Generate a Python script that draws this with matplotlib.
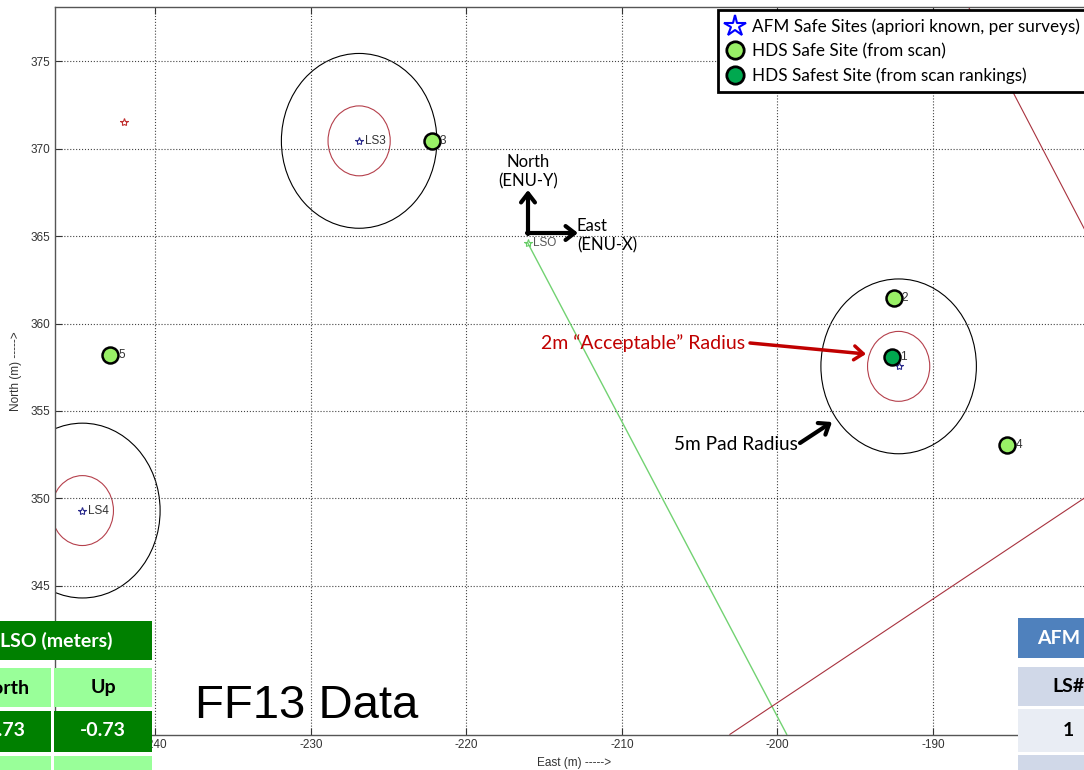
import matplotlib.pyplot as plt
import numpy as np
from matplotlib.lines import Line2D
from matplotlib.patches import Circle, Rectangle

plt.rcParams['font.family'] = 'Liberation Sans'
plt.rcParams['axes.unicode_minus'] = False

# AFM safe sites (apriori known, per surveys)
afm_east = [-192.2, -226.9, -244.7]
afm_north = [357.55, 370.45, 349.3]
afm_labels = ['', 'LS3', 'LS4']

# HDS safe sites from scan, site 1 is the safest
hds_ids = ['1', '2', '3', '4', '5']
hds_east = [-192.6, -192.5, -222.2, -185.2, -242.9]
hds_north = [358.1, 361.45, 370.45, 353.05, 358.2]
safest_id = '1'

# other reference points
lso_east, lso_north = -216.05, 364.6
red_site_east, red_site_north = -242.0, 371.55

# ground track from LSO and the two red boundary lines
track_east = [-216.05, -199.4]
track_north = [364.6, 336.5]
bound1_east = [-187.7, -175.0]
bound1_north = [378.1, 356.45]
bound2_east = [-203.05, -175.0]
bound2_north = [336.5, 353.13]

pad_radius = 5.0
accept_radius = 2.0

# offset tables
lso_cols = ['North', 'Up']
lso_vals = ['-0.73', '-0.73']
afm_cols = ['LS#']
afm_vals = ['1']

W, H = 1084, 770
fig = plt.figure(figsize=(W / 100, H / 100), dpi=100)
ax = fig.add_axes([55 / W, (H - 734.5) / H, 1038 / W, 727.2 / H])
ax.set_xlim(-246.46, -179.7)
ax.set_ylim(336.49, 378.09)

# pad and acceptable radius circles round each AFM site
for e, n in zip(afm_east, afm_north):
    ax.add_patch(Circle((e, n), pad_radius, fill=False, ec='k', lw=0.8))
    ax.add_patch(Circle((e, n), accept_radius, fill=False, ec='#b5404c', lw=0.8))

ax.plot(track_east, track_north, color='#72d272', lw=1.0)
ax.plot(bound1_east, bound1_north, color='#a8323e', lw=0.8)
ax.plot(bound2_east, bound2_north, color='#a8323e', lw=0.8)

ax.plot(afm_east, afm_north, ls='none', marker='*', ms=6, mfc='none',
        mec='#2b2b8c', mew=0.8)
for e, n, t in zip(afm_east, afm_north, afm_labels):
    if t:
        ax.text(e + 0.35, n, t, fontsize=8.5, color='#333333', va='center')

ax.plot([lso_east], [lso_north], ls='none', marker='*', ms=6, mfc='none',
        mec='#66cc66', mew=0.8)
ax.text(lso_east + 0.35, lso_north, 'LSO', fontsize=8.5, color='#555555', va='center')
ax.plot([red_site_east], [red_site_north], ls='none', marker='*', ms=6,
        mfc='none', mec='#c03030', mew=0.8)

for i, e, n in zip(hds_ids, hds_east, hds_north):
    fc = '#00a84f' if i == safest_id else '#99f066'
    ax.plot([e], [n], ls='none', marker='o', ms=11.5, mfc=fc, mec='k', mew=1.8)
    ax.text(e + 0.5, n, i, fontsize=8.5, color='#333333', va='center')

ax.set_xticks(np.arange(-240, -179, 10))
ax.set_yticks(np.arange(345, 376, 5))
ax.grid(True, ls=':', color='#444444', lw=0.8)
ax.tick_params(direction='in', length=5, top=True, right=True,
               labelsize=8.5, color='#333333', labelcolor='#333333')
for s in ax.spines.values():
    s.set_color('#555555')
    s.set_linewidth(1.0)
ax.set_xlabel('East (m) ----->', fontsize=8.5, color='#333333', labelpad=4)
ax.set_ylabel('North (m) ----->', fontsize=8.5, color='#333333', labelpad=6)

handles = [
    Line2D([], [], ls='none', marker='*', ms=16, mfc='white', mec='#0000ff', mew=1.5),
    Line2D([], [], ls='none', marker='o', ms=12.5, mfc='#99f066', mec='k', mew=2),
    Line2D([], [], ls='none', marker='o', ms=12.5, mfc='#00a84f', mec='k', mew=2),
]
labels = ['AFM Safe Sites (apriori known, per surveys)',
          'HDS Safe Site (from scan)',
          'HDS Safest Site (from scan rankings)']
leg = ax.legend(handles, labels, loc='upper left',
                bbox_to_anchor=(718 / W, 1 - 10 / H), bbox_transform=fig.transFigure,
                fancybox=False, framealpha=1, edgecolor='k', borderaxespad=0,
                prop={'family': 'Lato', 'size': 12.3}, handlelength=1.0,
                handletextpad=0.5, labelspacing=0.47, borderpad=0.5)
leg.get_frame().set_linewidth(2)

# slide overlay in pixel coordinates
ov = fig.add_axes([0, 0, 1, 1], zorder=5)
ov.set_xlim(0, W)
ov.set_ylim(H, 0)
ov.axis('off')
ov.patch.set_alpha(0)

dark_g, light_g = '#008000', '#99ff99'
def cell(x0, y0, x1, y1, color):
    ov.add_patch(Rectangle((x0, y0), x1 - x0, y1 - y0, color=color, lw=0))

cell(-200, 621, 152, 660, dark_g)
col_x = [(-100, 51), (54, 152)]
for (x0, x1), name, val in zip(col_x, lso_cols, lso_vals):
    cell(x0, 668, x1, 707, light_g)
    cell(x0, 711, x1, 752, dark_g)
    cell(x0, 756, x1, 800, light_g)
    cx = (x0 + x1) / 2 if x0 > 0 else 3
    ov.text(cx, 688, name, ha='center', va='center', family='Lato',
            weight='bold', fontsize=14, color='black')
    ov.text(cx, 731, val, ha='center', va='center', family='Lato',
            weight='bold', fontsize=14, color='white')
ov.text(112, 641, 'LSO (meters)', ha='right', va='center', family='Lato',
        weight='bold', fontsize=14, color='white')

cell(1018, 618, 1200, 658, '#4f81bd')
cell(1018, 667, 1200, 706, '#d0d8e8')
cell(1018, 709, 1200, 752, '#e9edf4')
cell(1018, 755, 1200, 800, '#d0d8e8')
ov.text(1037, 639, 'AFM', ha='left', va='center', family='Lato',
        weight='bold', fontsize=14, color='white')
ov.text(1068, 687, afm_cols[0], ha='center', va='center', family='Lato',
        weight='bold', fontsize=14, color='black')
ov.text(1068, 731, afm_vals[0], ha='center', va='center', family='Lato',
        weight='bold', fontsize=14, color='black')

ov.text(195, 718, 'FF13 Data', ha='left', va='baseline', fontsize=34,
        family='Liberation Sans', color='black')

# ENU axes glyph
arr = dict(arrowstyle='->,head_length=0.65,head_width=0.5', lw=3, color='k',
           shrinkA=0, shrinkB=0)
ov.annotate('', xy=(528, 190), xytext=(528, 234), arrowprops=arr)
ov.annotate('', xy=(578, 233), xytext=(527, 233), arrowprops=arr)
ov.text(528, 172, 'North\n(ENU-Y)', ha='center', va='center', family='Lato',
        fontsize=12, linespacing=1.25)
ov.text(577, 236, 'East\n(ENU-X)', ha='left', va='center', family='Lato',
        fontsize=12, linespacing=1.25)

ov.text(541, 343, '2m \u201cAcceptable\u201d Radius', ha='left', va='center',
        family='Lato', fontsize=14, color='#c00000')
ov.annotate('', xy=(866, 354), xytext=(750, 343),
            arrowprops=dict(arr, color='#c00000', lw=2.5))
ov.text(674, 444, '5m Pad Radius', ha='left', va='center', family='Lato',
        fontsize=13.7, color='black')
ov.annotate('', xy=(832, 422), xytext=(800, 443), arrowprops=arr)

fig.savefig('out.png', dpi=100)
